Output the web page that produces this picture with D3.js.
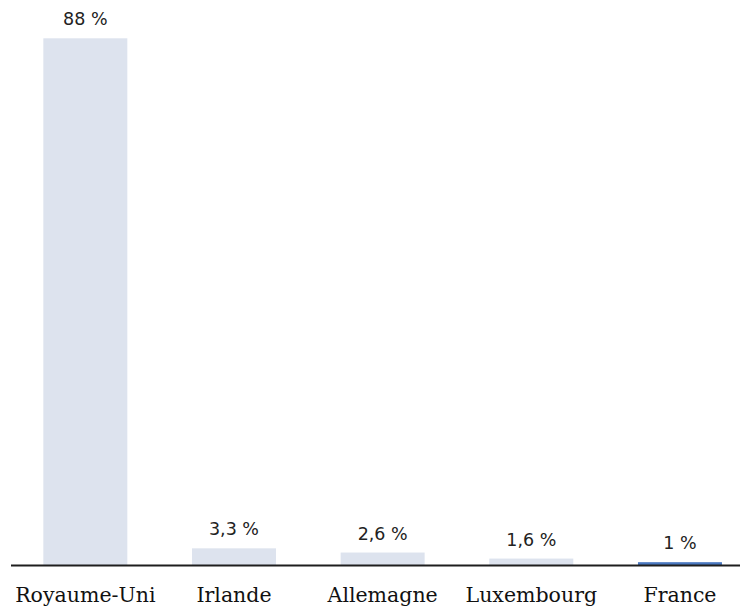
<!DOCTYPE html>
<html>
<head>
<meta charset="utf-8">
<script src="https://cdn.jsdelivr.net/npm/d3@7"></script>
<style>
  html, body { margin: 0; padding: 0; background: #fff; }
  svg { display: block; }
</style>
</head>
<body>
<svg id="chart" width="740" height="609"></svg>
<script>
// Pays et parts (%)
const categories = ["Royaume-Uni", "Irlande", "Allemagne", "Luxembourg", "France"];
const values = [88, 3.3, 2.6, 1.6, 1];
const valueLabels = ["88 %", "3,3 %", "2,6 %", "1,6 %", "1 %"];
const highlighted = ["France"];

const svg = d3.select("#chart");
const W = 740, H = 609;

const x = d3.scaleBand()
  .domain(categories)
  .range([11, 754.3])
  .paddingInner(0.435)
  .paddingOuter(0.2175);

const y = d3.scaleLinear()
  .domain([0, 88])
  .range([568.2, 38.3]);

const axisY = 565.5;

const data = categories.map((c, i) => ({ cat: c, value: values[i], label: valueLabels[i] }));

// Barres
svg.append("g")
  .selectAll("rect")
  .data(data)
  .join("rect")
  .attr("x", d => x(d.cat))
  .attr("width", x.bandwidth())
  .attr("y", d => y(d.value))
  .attr("height", d => Math.max(0, axisY - y(d.value)))
  .attr("fill", d => highlighted.includes(d.cat) ? "#4a78c0" : "#dde3ee");

// Étiquettes de valeur
svg.append("g")
  .selectAll("text")
  .data(data)
  .join("text")
  .attr("x", d => x(d.cat) + x.bandwidth() / 2)
  .attr("y", d => y(d.value) - 13)
  .attr("text-anchor", "middle")
  .attr("font-family", "'DejaVu Sans', sans-serif")
  .attr("font-size", 17.5)
  .attr("fill", "#222")
  .text(d => d.label);

// Ligne de base
svg.append("line")
  .attr("x1", 11).attr("x2", W)
  .attr("y1", axisY).attr("y2", axisY)
  .attr("stroke", "#1e1e1e")
  .attr("stroke-width", 2);

// Axe des catégories
const xAxis = d3.axisBottom(x).tickSize(0).tickPadding(0);
const gx = svg.append("g")
  .attr("transform", `translate(0,${axisY})`)
  .call(xAxis);
gx.select(".domain").remove();
gx.selectAll("text")
  .attr("y", 36.5)
  .attr("dy", 0)
  .attr("font-family", "'DejaVu Serif', serif")
  .attr("font-size", 20.5)
  .attr("fill", "#111");
</script>
</body>
</html>
